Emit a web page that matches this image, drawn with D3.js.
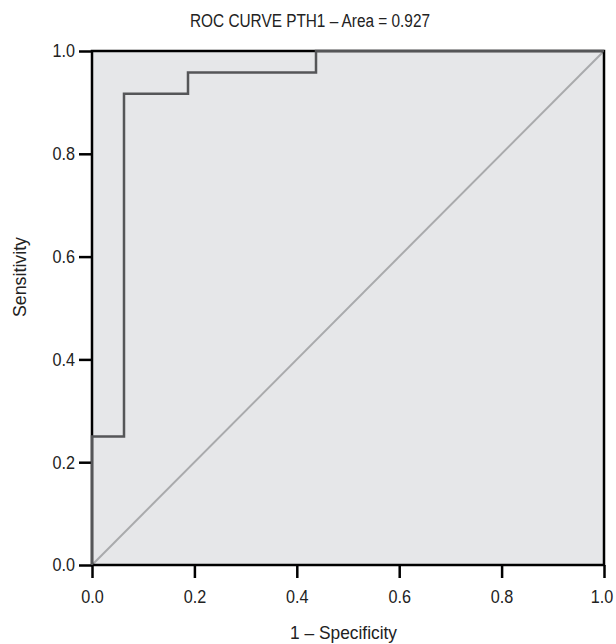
<!DOCTYPE html>
<html>
<head>
<meta charset="utf-8">
<script src="https://cdn.jsdelivr.net/npm/d3@7"></script>
<style>
  body { margin: 0; background: #fff; }
  text { font-family: "Liberation Sans", Arial, sans-serif; fill: #222; }
</style>
</head>
<body>
<div id="plot"></div>
<script>
// ROC curve points (1 - specificity, sensitivity)
const fpr = [0, 0, 0.0625, 0.0625, 0.1875, 0.1875, 0.4375, 0.4375, 1];
const tpr = [0, 0.25, 0.25, 0.9167, 0.9167, 0.9583, 0.9583, 1, 1];
const ticks = [0, 0.2, 0.4, 0.6, 0.8, 1.0];
const title = "ROC CURVE PTH1 \u2013 Area = 0.927";

const margin = {top: 51, right: 12, bottom: 79, left: 92},
      width = 616 - margin.left - margin.right,
      height = 644 - margin.top - margin.bottom;

const svg = d3.select("#plot")
  .append("svg")
    .attr("width", 616)
    .attr("height", 644);

const g = svg.append("g")
    .attr("transform", `translate(${margin.left},${margin.top})`);

const x = d3.scaleLinear().domain([0, 1]).range([0, width]);
const y = d3.scaleLinear().domain([0, 1]).range([height, 0]);

// background
g.append("rect")
  .attr("width", width)
  .attr("height", height)
  .attr("fill", "#e6e7e9");

// reference diagonal
g.append("line")
  .attr("x1", x(0)).attr("y1", y(0))
  .attr("x2", x(1)).attr("y2", y(1))
  .attr("stroke", "#a9aaac")
  .attr("stroke-width", 2);

// frame
g.append("rect")
  .attr("width", width)
  .attr("height", height)
  .attr("fill", "none")
  .attr("stroke", "#000")
  .attr("stroke-width", 2.5);

// axes
const xAxis = g.append("g")
  .attr("transform", `translate(0,${height})`)
  .call(d3.axisBottom(x).tickValues(ticks).tickFormat(d3.format(".1f")).tickSize(13).tickPadding(12));
const yAxis = g.append("g")
  .call(d3.axisLeft(y).tickValues(ticks).tickFormat(d3.format(".1f")).tickSize(13).tickPadding(4));

[xAxis, yAxis].forEach(a => {
  a.select(".domain").remove();
  a.selectAll("line").attr("stroke", "#000").attr("stroke-width", 2.5);
  a.selectAll("text")
    .attr("font-size", 18.5)
    .attr("fill", "#222")
    .attr("textLength", 22.5)
    .attr("lengthAdjust", "spacingAndGlyphs")
    .style("font-family", "'Liberation Sans', Arial, sans-serif");
});

// last x label sits against the page edge
xAxis.selectAll("text").filter(d => d === 1).attr("x", -2.5);

// roc curve
const pts = fpr.map((d, i) => [d, tpr[i]]);
g.append("path")
  .datum(pts)
  .attr("d", d3.line().x(d => x(d[0])).y(d => y(d[1])))
  .attr("fill", "none")
  .attr("stroke", "#555658")
  .attr("stroke-width", 2.5);

// labels
svg.append("text")
  .attr("x", 310)
  .attr("y", 26.5)
  .attr("text-anchor", "middle")
  .attr("font-size", 18)
  .attr("textLength", 240)
  .attr("lengthAdjust", "spacingAndGlyphs")
  .text(title);

svg.append("text")
  .attr("x", 343.5)
  .attr("y", 638.5)
  .attr("text-anchor", "middle")
  .attr("font-size", 18.5)
  .attr("textLength", 107)
  .attr("lengthAdjust", "spacingAndGlyphs")
  .text("1 \u2013 Specificity");

svg.append("text")
  .attr("transform", "translate(26,277) rotate(-90)")
  .attr("text-anchor", "middle")
  .attr("font-size", 18)
  .attr("textLength", 80)
  .attr("lengthAdjust", "spacingAndGlyphs")
  .text("Sensitivity");
</script>
</body>
</html>
